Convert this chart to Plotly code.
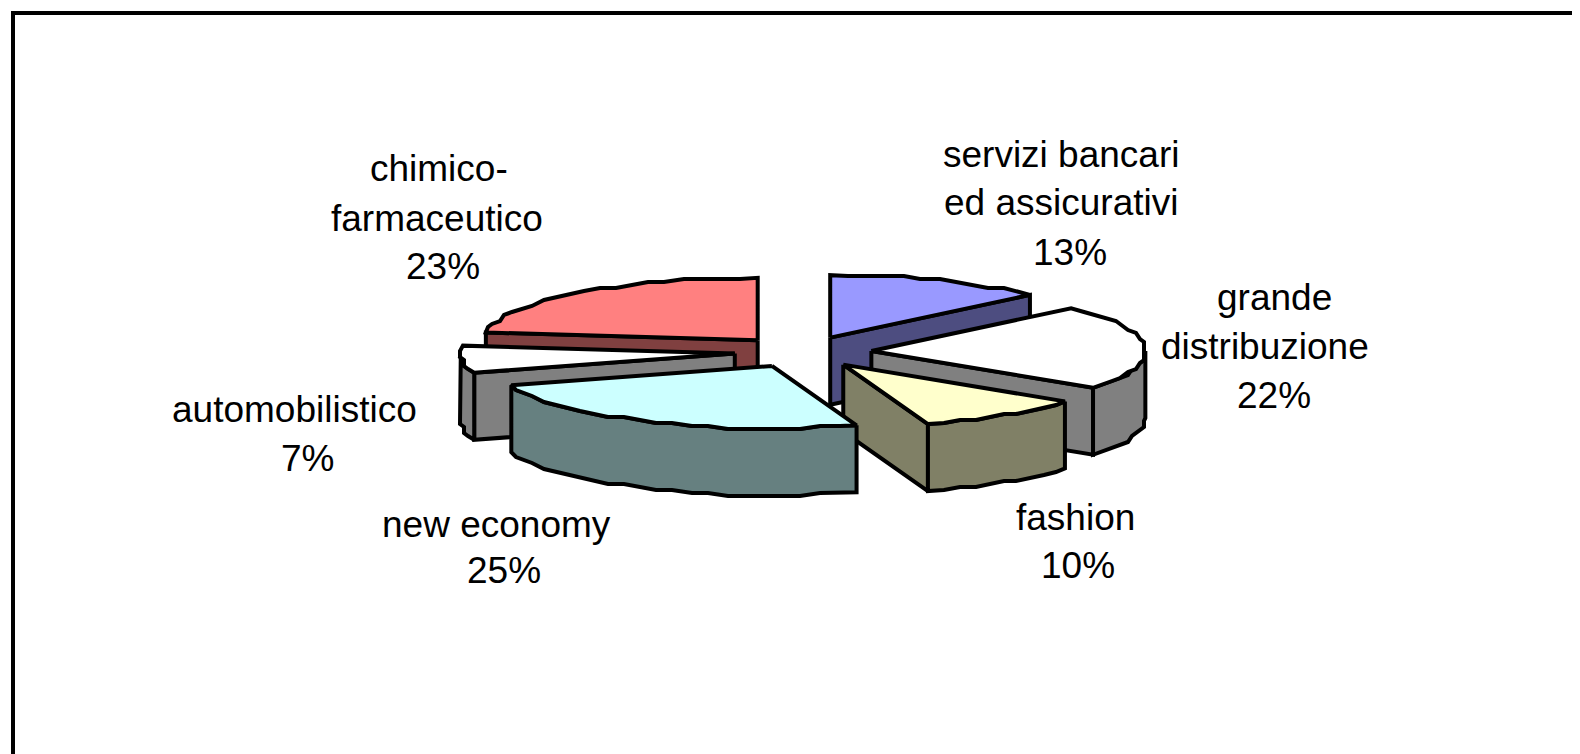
import math
import plotly.graph_objects as go

# --- data -------------------------------------------------------------
categories = ["servizi bancari\ned assicurativi", "grande\ndistribuzione", "fashion",
              "new economy", "automobilistico", "chimico-\nfarmaceutico"]
values = [13, 22, 10, 25, 7, 23]

# --- styling ----------------------------------------------------------
top_colors = ["#9999FF", "#FFFFFF", "#FFFFCC", "#CCFFFF", "#FFFFFF", "#FF8080"]
side_colors = ["#4D4D80", "#808080", "#808066", "#668080", "#808080", "#804040"]
# centre of every text line of each label, in page pixels
label_lines = [
    [(1061, 154), (1061, 202), (1070, 252)],
    [(1274, 297), (1265, 346), (1274, 395)],
    [(1075, 517), (1078, 565)],
    [(496, 524), (504, 570)],
    [(294, 409), (307, 458)],
    [(439, 168), (437, 218), (443, 266)],
]
draw_order = [5, 0, 4, 1, 2, 3]

W, H = 1580, 754
PAGE_MARGIN = 8        # the page body offsets the plot by this much
CX, CY = 803, 352      # pie centre
A, B = 274, 62.5       # ellipse radii
DEPTH = 67
EXPLODE = 0.25
LW = 4
GX, GY = 4, 3          # coarse device grid of the rim outline


def ell(theta):
    t = math.radians(theta)
    return A * math.sin(t), -B * math.cos(t)


def rim(t1, t2, ax, ay):
    n = max(2, int(abs(t2 - t1) / 4.0) + 1)
    pts = []
    for i in range(n + 1):
        t = t1 + (t2 - t1) * i / n
        dx, dy = ell(t)
        x, y = ax + dx, ay + dy
        if 0 < i < n:
            x, y = round(x / GX) * GX, round(y / GY) * GY
        pts.append((x, y))
    return pts


def poly(fig, pts, color):
    pts = pts + [pts[0]]
    fig.add_trace(go.Scatter(
        x=[p[0] for p in pts], y=[p[1] for p in pts], mode="lines",
        fill="toself", fillcolor=color,
        line=dict(color="black", width=LW, shape="linear"),
        hoverinfo="skip", showlegend=False))


fig = go.Figure()
total = sum(values)
starts, acc = [], 0
for v in values:
    starts.append(acc / total * 360)
    acc += v

for i in draw_order:
    t1 = starts[i]
    t2 = t1 + values[i] / total * 360
    mx, my = ell((t1 + t2) / 2)
    ax, ay = CX + EXPLODE * mx, CY + EXPLODE * my
    r = rim(t1, t2, ax, ay)
    # cut face at the start edge
    if math.sin(math.radians(t1)) < -1e-6:
        e = r[0]
        poly(fig, [(ax, ay), e, (e[0], e[1] + DEPTH), (ax, ay + DEPTH)], side_colors[i])
    # cut face at the end edge
    if math.sin(math.radians(t2)) > 1e-6:
        e = r[-1]
        poly(fig, [(ax, ay), e, (e[0], e[1] + DEPTH), (ax, ay + DEPTH)], side_colors[i])
    # outer wall
    lo, hi = max(t1, 90), min(t2, 270)
    if hi > lo:
        w = rim(lo, hi, ax, ay)
        poly(fig, w + [(x, y + DEPTH) for x, y in reversed(w)], side_colors[i])
    # top face
    poly(fig, [(ax, ay)] + r, top_colors[i])

for cat, val, places in zip(categories, values, label_lines):
    for line, (lx, ly) in zip(cat.split("\n") + [f"{val}%"], places):
        fig.add_annotation(x=lx, y=ly, xref="x", yref="y", showarrow=False, align="center",
                           text=line,
                           font=dict(family="Liberation Sans", size=37, color="black"))

fig.update_layout(
    width=W - PAGE_MARGIN, height=H - PAGE_MARGIN, autosize=False,
    margin=dict(l=0, r=0, t=0, b=0),
    paper_bgcolor="white", plot_bgcolor="white", showlegend=False,
    xaxis=dict(range=[PAGE_MARGIN, W], visible=False, fixedrange=True),
    yaxis=dict(range=[H, PAGE_MARGIN], visible=False, fixedrange=True),
    shapes=[dict(type="line", xref="x", yref="y", x0=13, y0=13, x1=W, y1=13,
                 line=dict(color="black", width=4)),
            dict(type="line", xref="x", yref="y", x0=13, y0=11, x1=13, y1=H,
                 line=dict(color="black", width=4))],
)
fig.write_html("out.html", config={"displayModeBar": False})
